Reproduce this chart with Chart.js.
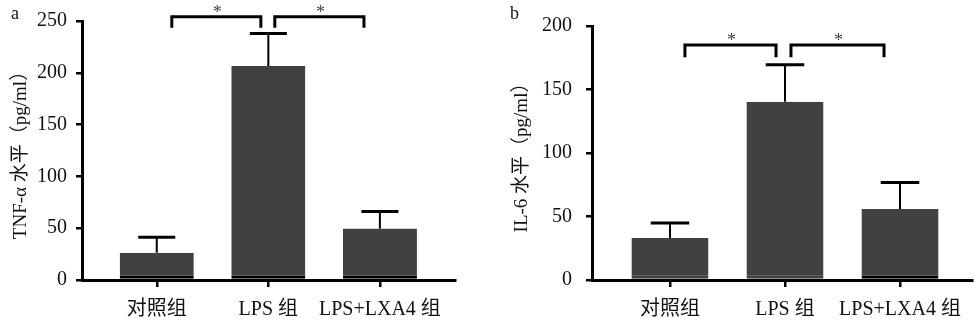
<!DOCTYPE html>
<html>
<head>
<meta charset="utf-8">
<script src="https://cdn.jsdelivr.net/npm/chart.js@4.4.0/dist/chart.umd.min.js"></script>
<style>
  body { margin: 0; background: #fff; }
  .panel { position: absolute; top: 0; width: 487px; height: 326px; }
  #panel-a { left: 0; }
  #panel-b { left: 487px; }
</style>
</head>
<body>
<div class="panel" id="panel-a"><canvas id="chartA"></canvas></div>
<div class="panel" id="panel-b"><canvas id="chartB"></canvas></div>
<script>
// data
const groups = ['对照组', 'LPS 组', 'LPS+LXA4 组'];
const tnfMean = [26.4, 206.5, 49.6];
const tnfSd = [14.8, 31.4, 16.4];
const il6Mean = [33.0, 140.3, 55.9];
const il6Sd = [11.8, 29.1, 20.9];
const tnfTicks = [0, 50, 100, 150, 200, 250];
const il6Ticks = [0, 50, 100, 150, 200];
// significance: pairs of group indexes
const pairs = [[0, 1], [1, 2]];
const sigMark = '*';

const serif = '"Liberation Serif", "Noto Sans CJK SC", serif';
const barColor = '#414141';

// draws error bars, brackets, stars and the panel letter
const annotate = {
  id: 'annotate',
  afterDraw(chart, args, opts) {
    const { ctx } = chart;
    const { x, y } = chart.scales;
    ctx.save();
    ctx.strokeStyle = '#000';
    opts.means.forEach((m, i) => {
      const cx = x.getPixelForValue(i + 1);
      const top = y.getPixelForValue(m + opts.sds[i]);
      ctx.lineWidth = 2;
      ctx.beginPath();
      ctx.moveTo(cx, y.getPixelForValue(m));
      ctx.lineTo(cx, top);
      ctx.stroke();
      ctx.lineWidth = 3;
      ctx.beginPath();
      ctx.moveTo(x.getPixelForValue(i + 1 - opts.cap), top);
      ctx.lineTo(x.getPixelForValue(i + 1 + opts.cap), top);
      ctx.stroke();
    });

    pairs.forEach(([a, b], k) => {
      const x1 = x.getPixelForValue(a + 1 + opts.inset[k][0]);
      const x2 = x.getPixelForValue(b + 1 - opts.inset[k][1]);
      const yt = y.getPixelForValue(opts.bracketTop);
      const yb = y.getPixelForValue(opts.bracketBottom);
      ctx.lineWidth = 3;
      ctx.lineJoin = 'miter';
      ctx.beginPath();
      ctx.moveTo(x1, yb);
      ctx.lineTo(x1, yt);
      ctx.lineTo(x2, yt);
      ctx.lineTo(x2, yb);
      ctx.stroke();
      ctx.fillStyle = '#444';
      ctx.font = '18px ' + serif;
      ctx.textAlign = 'center';
      ctx.textBaseline = 'alphabetic';
      ctx.fillText(sigMark, (x1 + x2) / 2 + 1, yt + 1);
    });

    ctx.fillStyle = '#111';
    ctx.font = '18px ' + serif;
    ctx.textAlign = 'left';
    ctx.fillText(opts.letter, opts.letterAt[0], opts.letterAt[1]);
    ctx.restore();
  }
};

const makePanel = (id, p) => {
  const canvas = document.getElementById(id);
  return new Chart(canvas, {
    type: 'bar',
    data: {
      datasets: [{
        data: p.means.map((v, i) => ({ x: i + 1, y: v })),
        backgroundColor: barColor,
        borderColor: p.baseColors,
        borderWidth: { top: 0, left: 0, right: 0, bottom: 3 },
        borderSkipped: false,
        barPercentage: p.barPct,
        categoryPercentage: 1,
      }],
    },
    options: {
      responsive: true,
      maintainAspectRatio: false,
      animation: false,
      devicePixelRatio: 1,
      layout: { padding: { top: 21, right: p.padRight, left: 0, bottom: 0 } },
      plugins: {
        legend: { display: false },
        tooltip: { enabled: false },
        annotate: {
          means: p.means,
          sds: p.sds,
          cap: p.barPct / 4,
          inset: p.inset,
          bracketTop: p.bracketTop,
          bracketBottom: p.bracketBottom,
          letter: p.letter,
          letterAt: p.letterAt,
        },
      },
      scales: {
        x: {
          type: 'linear',
          min: p.xMin,
          max: p.xMax,
          offset: false,
          afterFit: (s) => { s.height = 46; },
          afterBuildTicks: (s) => { s.ticks = groups.map((g, i) => ({ value: i + 1 })); },
          ticks: {
            autoSkip: false,
            maxRotation: 0,
            padding: 11,
            color: '#111',
            font: { family: serif, size: 20 },
            callback: (v, i) => groups[i],
          },
          grid: {
            offset: false,
            drawOnChartArea: false,
            drawTicks: true,
            tickLength: 7,
            color: '#000',
            lineWidth: 2.5,
          },
          border: { display: true, color: '#000', width: 3 },
        },
        y: {
          min: 0,
          max: p.ticks[p.ticks.length - 1],
          afterFit: (s) => { s.width = p.axisWidth; },
          afterBuildTicks: (s) => { s.ticks = p.ticks.map((v) => ({ value: v })); },
          ticks: {
            padding: p.labelPad,
            color: '#111',
            font: { family: serif, size: 20 },
          },
          grid: {
            drawOnChartArea: false,
            drawTicks: true,
            tickLength: 6,
            color: '#000',
            lineWidth: 2.5,
          },
          border: { display: true, color: '#000', width: 3 },
          title: {
            display: true,
            text: p.title,
            color: '#111',
            font: { family: serif, size: 19 },
            padding: { top: p.titlePad, bottom: 0 },
          },
        },
      },
    },
    plugins: [annotate],
  });
};

makePanel('chartA', {
  means: tnfMean,
  sds: tnfSd,
  ticks: tnfTicks,
  title: 'TNF-α 水平（pg/ml）',
  letter: 'a',
  letterAt: [11, 19],
  xMin: 0.33,
  xMax: 3.673,
  barPct: 0.664,
  axisWidth: 82,
  padRight: 32,
  labelPad: 9,
  titlePad: 10,
  inset: [[0.135, 0.067], [0.058, 0.143]],
  bracketTop: 254,
  bracketBottom: 243.5,
  baseColors: ['#000', '#000', '#000'],
});

makePanel('chartB', {
  means: il6Mean,
  sds: il6Sd,
  ticks: il6Ticks,
  title: 'IL-6 水平（pg/ml）',
  letter: 'b',
  letterAt: [23, 19],
  xMin: 0.322,
  xMax: 3.626,
  barPct: 0.67,
  axisWidth: 105,
  padRight: 2,
  labelPad: 14,
  titlePad: 23.6,
  inset: [[0.13, 0.078], [0.052, 0.139]],
  bracketTop: 185,
  bracketBottom: 175.3,
  baseColors: [barColor, barColor, '#000'],
});
</script>
</body>
</html>
